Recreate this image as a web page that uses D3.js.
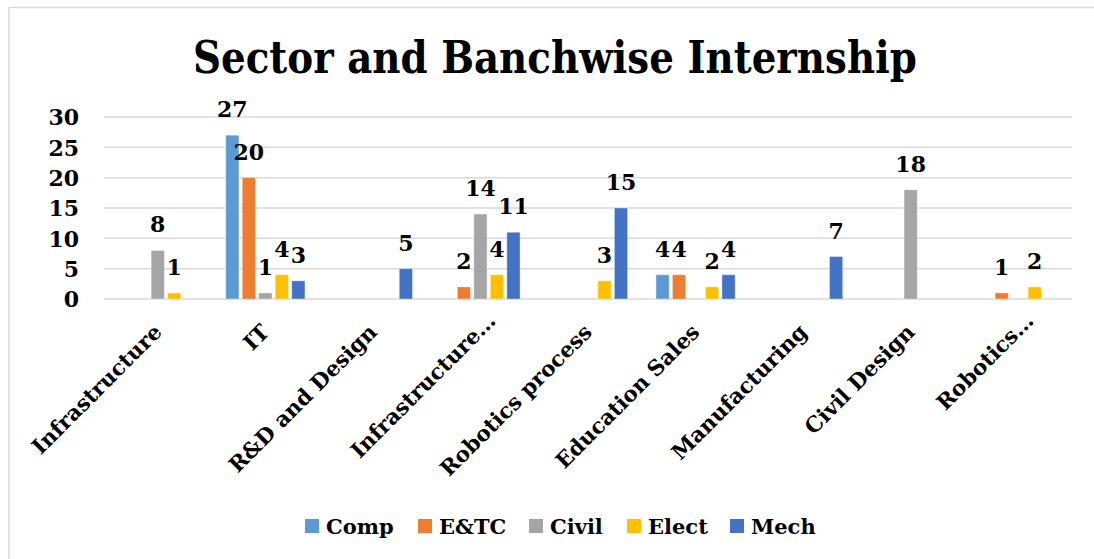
<!DOCTYPE html>
<html><head><meta charset="utf-8">
<script src="https://cdn.jsdelivr.net/npm/d3@7"></script>
<style>
body{margin:0;background:#fff;}
svg text{font-family:"DejaVu Serif",serif;font-weight:bold;fill:#000;}
</style></head>
<body><svg id="c" width="1094" height="559"></svg>
<script>
const categories = ["Infrastructure","IT","R&D and Design","Infrastructure…","Robotics process","Education Sales","Manufacturing","Civil Design","Robotics…"];
const seriesNames = ["Comp","E&TC","Civil","Elect","Mech"];
const colors = ["#5B9BD5","#ED7D31","#A5A5A5","#FFC000","#4472C4"];
const comp  = [0,27,0,0,0,4,0,0,0];
const etc   = [0,20,0,2,0,4,0,0,1];
const civil = [8,1,0,14,0,0,0,18,0];
const elect = [1,4,0,4,3,2,0,0,2];
const mech  = [0,3,5,11,15,4,7,0,0];
const yTicks = [0,5,10,15,20,25,30];
const title = "Sector and Banchwise Internship";

const seriesVals = [comp, etc, civil, elect, mech];
const svg = d3.select("#c");
const W = 1094, H = 559;
const m = {left:104, top:117};
const pw = 1072 - 104, ph = 299 - 117;

// border (top and left)
svg.append("line").attr("x1",9).attr("x2",W).attr("y1",7.5).attr("y2",7.5).attr("stroke","#d9d9d9").attr("stroke-width",1.5);
svg.append("line").attr("x1",9).attr("x2",9).attr("y1",7).attr("y2",H).attr("stroke","#d9d9d9").attr("stroke-width",1.5);

svg.append("text").attr("x",555).attr("y",73).attr("text-anchor","middle")
  .attr("font-size",44).attr("textLength",724).attr("lengthAdjust","spacingAndGlyphs").text(title);

const g = svg.append("g").attr("transform",`translate(${m.left},${m.top})`);
const x0 = d3.scaleBand().domain(categories).range([0,pw]).paddingInner(0.233).paddingOuter(0.1165);
const x1 = d3.scaleBand().domain(seriesNames).range([0,x0.bandwidth()]).paddingInner(0.2).paddingOuter(0.1);
const y = d3.scaleLinear().domain([0,30]).range([ph,0]);

// gridlines
g.append("g").selectAll("line").data(yTicks).join("line")
  .attr("x1",0).attr("x2",pw).attr("y1",d=>y(d)).attr("y2",d=>y(d))
  .attr("stroke","#d9d9d9").attr("stroke-width",1.5);

// y axis labels
const yAxis = d3.axisLeft(y).tickValues(yTicks).tickSize(0).tickPadding(25);
const ya = g.append("g").call(yAxis);
ya.select(".domain").remove();
ya.selectAll("text").attr("font-size",22).attr("font-family","DejaVu Serif").attr("font-weight","bold").attr("fill","#000").attr("dy","0.35em");

// bars
const data = [];
categories.forEach((c,i)=>seriesNames.forEach((s,j)=>{
  data.push({c, s, v: seriesVals[j][i], color: colors[j]});
}));
g.append("g").selectAll("rect").data(data.filter(d=>d.v>0)).join("rect")
  .attr("x",d=>x0(d.c)+x1(d.s)).attr("width",x1.bandwidth())
  .attr("y",d=>y(d.v)).attr("height",d=>ph-y(d.v))
  .attr("fill",d=>d.color).attr("stroke","#ffffff").attr("stroke-opacity",0.35).attr("stroke-width",1);

// value labels
g.append("g").selectAll("text").data(data.filter(d=>d.v>0)).join("text")
  .attr("x",d=>x0(d.c)+x1(d.s)+x1.bandwidth()/2).attr("y",d=>y(d.v)-18)
  .attr("text-anchor","middle").attr("font-size",22).text(d=>d.v);

// x axis labels
const xAxis = d3.axisBottom(x0).tickSize(0).tickPadding(0);
const xa = g.append("g").attr("transform",`translate(0,${ph})`).call(xAxis);
xa.select(".domain").remove();
xa.selectAll("text").attr("font-size",21.5).attr("font-family","DejaVu Serif").attr("font-weight","bold").attr("fill","#000")
  .attr("text-anchor","end").attr("y",null)
  .attr("transform","translate(0,29) rotate(-45)").attr("dy","0.35em")
  .attr("dx",d=>d.endsWith("…") ? 16 : 0);

// legend
const legX = [305,418,529,627,730];
const lg = svg.append("g");
seriesNames.forEach((s,i)=>{
  lg.append("rect").attr("x",legX[i]).attr("y",519).attr("width",14).attr("height",14).attr("fill",colors[i]);
  lg.append("text").attr("x",legX[i]+21).attr("y",534).attr("font-size",21).text(s);
});
</script></body></html>
